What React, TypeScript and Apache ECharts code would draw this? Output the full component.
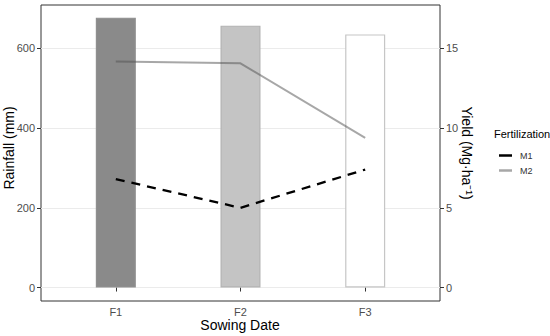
import React, { useEffect, useRef } from "react";
import * as echarts from "echarts";

const categories = ["F1", "F2", "F3"];
const rainfall = [677, 657, 635];
const yieldM1 = [6.8, 5.0, 7.4];
const yieldM2 = [14.17, 14.06, 9.38];
const rainTicks = [0, 200, 400, 600];
const yieldTicks = [0, 5, 10, 15];
const seriesNames = ["M1", "M2"];

const barFill = ["#8a8a8a", "#c4c4c4", "#ffffff"];
const barBorder = ["#8f8f8f", "#b3b3b3", "#c6c6c6"];
const lineColors = ["#000000", "rgba(80,80,80,0.5)"];

export default function App() {
  const ref = useRef<HTMLDivElement>(null);
  useEffect(() => {
    const chart = echarts.init(ref.current!, null, { renderer: "svg" });
    const rMin = -33.75, rMax = 708.75;
    const factor = 40;
    const xPos = categories.map((_, i) => i + 1);
    const font = "Liberation Sans, Arial, sans-serif";
    chart.setOption({
      animation: false,
      grid: { left: 41, right: 110, top: 5, bottom: 35, show: true, borderColor: "#333333", borderWidth: 1, backgroundColor: "transparent" },
      xAxis: {
        type: "value", min: 0.4, max: 3.6,
        axisLine: { show: false },
        axisTick: { show: true, customValues: xPos, length: 4, lineStyle: { color: "#333333" } },
        axisLabel: { customValues: xPos, margin: 5, color: "#4d4d4d", fontSize: 11, fontFamily: font, formatter: (v: number) => categories[Math.round(v) - 1] },
        splitLine: { show: false },
      },
      yAxis: [
        {
          type: "value", min: rMin, max: rMax,
          axisLine: { show: false },
          axisTick: { show: true, customValues: rainTicks, length: 4, lineStyle: { color: "#333333" } },
          axisLabel: { customValues: rainTicks, margin: 6, color: "#4d4d4d", fontSize: 11, fontFamily: font },
          splitLine: { show: true, lineStyle: { color: "#ebebeb", width: 1 } },
        },
        {
          type: "value", min: rMin / factor, max: rMax / factor, position: "right",
          axisLine: { show: false },
          axisTick: { show: true, customValues: yieldTicks, length: 4, lineStyle: { color: "#333333" } },
          axisLabel: { customValues: yieldTicks, margin: 6, color: "#4d4d4d", fontSize: 11, fontFamily: font },
          splitLine: { show: false },
        },
      ],
      legend: {
        data: seriesNames.map((n, i) => ({
          name: n,
          icon: "rect",
          itemStyle: { color: lineColors[i] },
        })),
        orient: "vertical", left: 494, top: 146,
        itemWidth: 13, itemHeight: 2.5,
        itemGap: 6,
        textStyle: { fontSize: 9, color: "#333333", fontFamily: font, padding: [0, 0, 0, 3] },
      },
      series: [
        {
          type: "bar", name: "Rainfall", yAxisIndex: 0, barWidth: 40, z: 2,
          data: rainfall.map((v, i) => ({
            value: [xPos[i], v],
            itemStyle: { color: barFill[i], borderColor: barBorder[i], borderWidth: 1.2 },
          })),
        },
        {
          type: "line", name: seriesNames[0], yAxisIndex: 1, symbol: "none", z: 4,
          data: yieldM1.map((v, i) => [xPos[i], v]),
          itemStyle: { color: lineColors[0] },
          lineStyle: { color: lineColors[0], width: 2.3, type: [9, 7] },
        },
        {
          type: "line", name: seriesNames[1], yAxisIndex: 1, symbol: "none", z: 3,
          data: yieldM2.map((v, i) => [xPos[i], v]),
          itemStyle: { color: lineColors[1] },
          lineStyle: { color: lineColors[1], width: 2 },
        },
      ],
      graphic: [
        {
          type: "text", x: 9, y: 148, rotation: Math.PI / 2,
          style: { text: "Rainfall (mm)", fontSize: 14, fill: "#000000", fontFamily: font, align: "center", verticalAlign: "middle" },
        },
        {
          type: "text", x: 240, y: 325,
          style: { text: "Sowing Date", fontSize: 14, fill: "#000000", fontFamily: font, align: "center", verticalAlign: "middle" },
        },
        {
          type: "text", x: 467, y: 153, rotation: -Math.PI / 2,
          style: { text: "Yield (Mg·ha⁻¹)", fontSize: 14, fill: "#000000", fontFamily: font, align: "center", verticalAlign: "middle" },
        },
        {
          type: "text", x: 494, y: 134,
          style: { text: "Fertilization", fontSize: 11, fill: "#000000", fontFamily: font, align: "left", verticalAlign: "middle" },
        },
      ],
    });
    return () => chart.dispose();
  }, []);
  return <div ref={ref} style={{ width: 550, height: 336, position: "absolute", left: 0, top: 0 }} />;
}
